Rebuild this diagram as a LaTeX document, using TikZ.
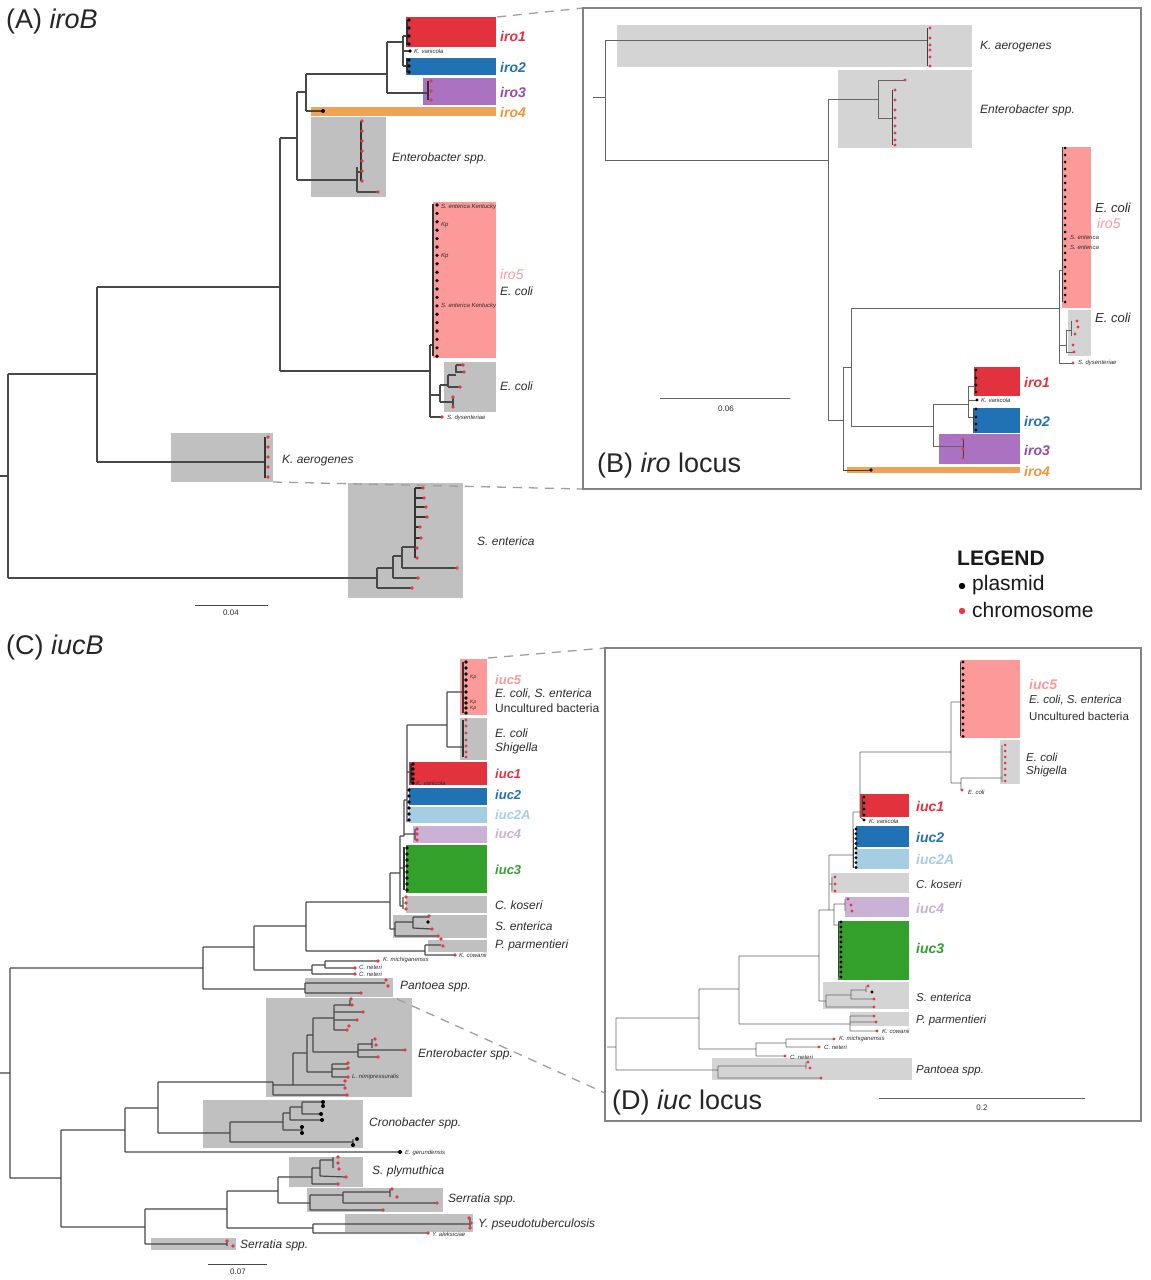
\documentclass[tikz,border=0pt]{standalone}
\usepackage{fontspec}
\setmainfont{Liberation Sans}
\definecolor{treeA}{RGB}{72,72,72}
\definecolor{treeB}{RGB}{100,100,100}
\definecolor{rdot}{RGB}{228,58,72}
\definecolor{txt}{RGB}{45,45,45}
\definecolor{cRed}{RGB}{226,50,62}
\definecolor{cBlue}{RGB}{33,113,181}
\definecolor{cPurp}{RGB}{170,114,192}
\definecolor{cPurpT}{RGB}{150,72,178}
\definecolor{cOra}{RGB}{240,163,85}
\definecolor{cOraT}{RGB}{238,150,60}
\definecolor{cPink}{RGB}{251,154,153}
\definecolor{cLBlue}{RGB}{166,206,227}
\definecolor{cLav}{RGB}{202,178,214}
\definecolor{cGreen}{RGB}{51,160,44}
\definecolor{gA}{RGB}{192,192,192}
\definecolor{gB}{RGB}{212,212,212}
\definecolor{frame}{RGB}{130,130,130}
\begin{document}
\begin{tikzpicture}[x=1pt,y=-1pt,
  trA/.style={draw=treeA, line width=1.2pt},
  trB/.style={draw=treeB, line width=0.9pt},
  chA/.style={draw=black!80, line width=1.2pt},
  chB/.style={draw=black!75, line width=0.9pt},
  rd/.style={fill=rdot},
  bk/.style={fill=black},
  lab/.style={anchor=west, inner sep=0pt, text=txt, font=\fontsize{12}{14}\selectfont\itshape},
  labu/.style={anchor=west, inner sep=0pt, text=txt, font=\fontsize{12}{14}\selectfont},
  labD/.style={anchor=west, inner sep=0pt, text=txt, font=\fontsize{11.5}{13}\selectfont\itshape},
  labDu/.style={anchor=west, inner sep=0pt, text=txt, font=\fontsize{11.5}{13}\selectfont},
  clab/.style={anchor=west, inner sep=0pt, font=\fontsize{14}{16}\selectfont\bfseries\itshape},
  clabC/.style={anchor=west, inner sep=0pt, font=\fontsize{13}{15}\selectfont\bfseries\itshape},
  sm/.style={anchor=west, inner sep=0pt, text=txt, font=\fontsize{6}{7}\selectfont\itshape},
  ttl/.style={anchor=west, inner sep=0pt, text=black!85, font=\fontsize{27}{30}\selectfont},
  scl/.style={anchor=north, inner sep=0pt, text=txt, font=\fontsize{8}{9}\selectfont},
  zl/.style={draw=gray!75, line width=1.3pt, dash pattern=on 9pt off 7pt},
  frm/.style={draw=frame, line width=1.2pt},
  lg/.style={anchor=west, inner sep=0pt, text=black!90, font=\fontsize{21}{24}\selectfont}
]
\useasboundingbox[fill=white] (0,0) rectangle (1151,1280);

%================ PANEL A =================
\fill[cRed] (406,17) rectangle (496,47);
\fill[cBlue] (406,58) rectangle (496,75);
\fill[cPurp] (423,78) rectangle (496,105);
\fill[cOra] (311,107) rectangle (496,116);
\fill[gA] (311,117) rectangle (386,197);
\fill[cPink] (433,202) rectangle (496,358);
\fill[gA] (444,362) rectangle (496,412);
\fill[gA] (171,433) rectangle (273,482);
\fill[gA] (348,483) rectangle (463,598);

\draw[trA] (0,476)--(8,476) (8,374)--(8,578) (8,374)--(97,374)
  (97,287)--(97,462) (97,462)--(265,462) (97,287)--(280,287)
  (280,138)--(280,371) (280,371)--(430,371) (280,138)--(297,138)
  (297,92)--(297,180) (297,180)--(357,180) (357,167)--(357,192) (357,192)--(378,192) (357,172)--(361,172)
  (297,92)--(306,92) (306,74)--(306,111) (306,111)--(323,111) (306,74)--(387,74)
  (387,42)--(387,93) (387,93)--(428,93) (387,42)--(403,42) (403,36)--(403,66)
  (403,36)--(407,36) (403,66)--(407,66) (403,51)--(410,51)
  (430,345)--(430,417) (430,345)--(433,345) (430,417)--(442,417)
  (430,395)--(440,395) (440,385)--(440,402) (440,402)--(453,402) (453,397)--(453,407)
  (440,385)--(448,385) (448,375)--(448,387) (448,387)--(460,387) (448,375)--(456,375) (456,365)--(456,373)
  (456,365)--(463,365) (456,372)--(464,372)
  (8,578)--(377,578) (377,568)--(377,588) (377,588)--(412,588) (377,568)--(393,568)
  (393,556)--(393,578) (393,578)--(418,578) (393,556)--(402,556) (402,547)--(402,568)
  (402,568)--(457,568) (402,547)--(415,547);
\draw[chA] (361,121)--(361,181) (428,81)--(428,100) (407,20)--(407,45) (407,58)--(407,72)
  (433,204)--(433,356) (265,437)--(265,478) (415,488)--(415,558)
  (415,488)--(423,488) (415,498)--(424,498) (415,507)--(426,507) (415,517)--(427,517)
  (415,527)--(420,527) (415,538)--(421,538);
\foreach \yy in {121,131,141,151,161,171,181} \fill[rd] (362,\yy) circle (1.9pt);
\fill[rd] (378,192) circle (1.9pt);
\foreach \yy in {81,91,100} \fill[rd] (431,\yy) circle (1.9pt);
\foreach \yy in {20,28,36,44,60,66,72} \fill[bk] (409,\yy) circle (1.8pt);
\fill[bk] (410,51) circle (1.8pt);
\fill[bk] (323,111) circle (2pt);
\foreach \i in {0,...,18} \fill[bk] (437,{205+8.4*\i}) circle (1.8pt);
\foreach \p in {(463,365),(464,372),(460,387),(453,397),(453,407),(442,417)} \fill[rd] \p circle (1.8pt);
\foreach \yy in {437,447,457,467,477} \fill[rd] (268,\yy) circle (1.9pt);
\foreach \p in {(423,488),(424,498),(426,507),(427,517),(420,527),(421,538),(417,548),(417,558),(457,568),(418,578),(412,588)} \fill[rd] \p circle (1.9pt);

\node[ttl] (tA) at (6,22) {(A) \textit{iroB}};
\node[clab, text=cRed] (lA1) at (500,36) {iro1};
\node[clab, text=cBlue] (lA2) at (500,67) {iro2};
\node[clab, text=cPurpT] (lA3) at (500,92) {iro3};
\node[clab, text=cOraT] (lA4) at (500,112) {iro4};
\node[lab] (lAent) at (392,158) {Enterobacter spp.};
\node[anchor=west, inner sep=0pt, text=cPink, font=\fontsize{14}{16}\selectfont\itshape] (lA5) at (500,274) {iro5};
\node[lab] (lAec1) at (500,291) {E. coli};
\node[lab] (lAec2) at (500,386) {E. coli};
\node[lab] (lAka) at (282,461) {K. aerogenes};
\node[lab] (lAse) at (477,541) {S. enterica};
\node[sm] (sA1) at (414,51) {K. variicola};
\node[sm] (sA2) at (441,207) {S. enterica Kentucky};
\node[sm] (sA3) at (441,225) {Kp};
\node[sm] (sA4) at (441,256) {Kp};
\node[sm] (sA5) at (441,306) {S. enterica Kentucky};
\node[sm] (sA6) at (447,418) {S. dysenteriae};
\draw[trA, line width=1pt] (195,605)--(268,605);
\node[scl] (scA) at (231,610) {0.04};

%================ PANEL B =================
\coordinate (iroTR) at (497,17);
\coordinate (kaBR) at (273,482);
\coordinate (BTL) at (583,8);
\coordinate (BBL) at (583,489);
\draw[zl] (iroTR)--(BTL);
\draw[zl] (kaBR)--(BBL);
\fill[gB] (617,25) rectangle (972,67);
\fill[gB] (838,70) rectangle (972,148);
\fill[cPink] (1062,147) rectangle (1091,308);
\fill[gB] (1068,310) rectangle (1091,356);
\fill[cRed] (974,367) rectangle (1020,396);
\fill[cBlue] (973,408) rectangle (1020,433);
\fill[cPurp] (939,434) rectangle (1020,464);
\fill[cOra] (847,467) rectangle (1020,473);
\draw[frm] (583,8) rectangle (1141,489);

\draw[trB] (593,97)--(605,97) (605,40)--(605,160) (605,40)--(927,40) (605,160)--(828,160)
  (828,99)--(828,420) (828,99)--(878,99) (878,80)--(878,118) (878,80)--(905,80) (878,118)--(892,118)
  (828,420)--(843,420) (843,367)--(843,470) (843,367)--(851,367) (851,308)--(851,426)
  (851,308)--(1059,308) (851,426)--(933,426) (933,404)--(933,446) (933,446)--(963,446)
  (933,404)--(968,404) (968,386)--(968,417) (968,386)--(975,386) (968,417)--(973,417) (968,400)--(977,400)
  (1059,270)--(1059,363) (1059,270)--(1062,270) (1059,363)--(1073,363)
  (1059,345)--(1066,345) (1066,330)--(1066,352) (1066,352)--(1074,352) (1066,330)--(1071,330) (1071,321)--(1071,336);
\draw[chB] (927,28)--(927,66) (892,90)--(892,145) (963,439)--(963,458) (975,370)--(975,392)
  (973,409)--(973,430) (1062,147)--(1062,302) (843,470)--(871,470);
\foreach \yy in {28,38,45,50,57,66} \fill[rd] (930,\yy) circle (1.6pt);
\foreach \yy in {90,100,110,118,126,133,140,145} \fill[rd] (895,\yy) circle (1.6pt);
\fill[rd] (905,80) circle (1.6pt);
\foreach \yy in {439,449,458} \fill[rd] (963,\yy) circle (1.6pt);
\foreach \yy in {370,378,385,392,409,417,424,430} \fill[bk] (976,\yy) circle (1.6pt);
\fill[bk] (977,400) circle (1.6pt);
\fill[bk] (871,470) circle (1.8pt);
\foreach \i in {0,...,22} \fill[bk] (1065,{148+7*\i}) circle (1.5pt);
\foreach \p in {(1077,321),(1078,327),(1075,334),(1073,345),(1074,352),(1073,363)} \fill[rd] \p circle (1.6pt);

\node[lab] (lBka) at (980,47) {K. aerogenes};
\node[lab] (lBent) at (980,110) {Enterobacter spp.};
\node[lab, font=\fontsize{13}{15}\selectfont\itshape] (lBec1) at (1095,208) {E. coli};
\node[anchor=west, inner sep=0pt, text=cPink, font=\fontsize{14}{16}\selectfont\itshape] (lB5) at (1097,223) {iro5};
\node[lab, font=\fontsize{13}{15}\selectfont\itshape] (lBec2) at (1095,318) {E. coli};
\node[sm] (sB1) at (1070,237) {S. enterica};
\node[sm] (sB2) at (1070,247) {S. enterica};
\node[sm] (sB3) at (1078,363) {S. dysenteriae};
\node[sm] (sB4) at (981,400) {K. variicola};
\node[clab, text=cRed] (lB1) at (1024,382) {iro1};
\node[clab, text=cBlue] (lB2) at (1024,421) {iro2};
\node[clab, text=cPurpT] (lB3) at (1024,450) {iro3};
\node[clab, text=cOraT] (lB4) at (1024,471) {iro4};
\draw[trB] (660,398)--(790,398);
\node[scl] (scB) at (726,406) {0.06};
\node[ttl] (tB) at (597,466) {(B) \textit{iro} locus};

%================ LEGEND =================
\node[lg, font=\fontsize{21}{24}\selectfont\bfseries] (lgT) at (957,558) {LEGEND};
\fill[bk] (962,586) circle (3.2pt);
\node[lg] (lgP) at (972,585) {plasmid};
\fill[rd] (962,611) circle (3.2pt);
\node[lg] (lgC) at (972,610) {chromosome};

%================ PANEL C =================
\fill[cPink] (460,659) rectangle (487,715);
\fill[gA] (460,718) rectangle (487,760);
\fill[cRed] (409,762) rectangle (487,785);
\fill[cBlue] (409,788) rectangle (487,805);
\fill[cLBlue] (409,807) rectangle (487,823);
\fill[cLav] (413,826) rectangle (487,843);
\fill[cGreen] (406,845) rectangle (487,893);
\fill[gA] (406,896) rectangle (487,913);
\fill[gA] (393,915) rectangle (487,938);
\fill[gA] (428,940) rectangle (487,952);
\fill[gA] (305,978) rectangle (393,997);
\fill[gA] (266,998) rectangle (412,1097);
\fill[gA] (203,1100) rectangle (363,1148);
\fill[gA] (289,1157) rectangle (363,1187);
\fill[gA] (307,1188) rectangle (443,1212);
\fill[gA] (345,1214) rectangle (473,1232);
\fill[gA] (151,1238) rectangle (236,1250);

\draw[trA] (0,1073)--(10,1073) (10,968)--(10,1178) (10,968)--(203,968) (203,947)--(203,989)
  (203,947)--(254,947) (254,926)--(254,970) (254,926)--(306,926) (306,902)--(306,951)
  (306,951)--(425,951) (425,945)--(425,955) (425,945)--(441,945) (425,955)--(455,955)
  (306,902)--(390,902) (390,873)--(390,929) (390,929)--(395,929) (395,922)--(395,936)
  (395,936)--(438,936) (395,922)--(413,922) (413,917)--(413,928) (413,917)--(429,917) (413,928)--(432,929)
  (390,873)--(400,873) (400,836)--(400,906) (400,906)--(403,906) (403,897)--(403,909)
  (400,868)--(404,868) (400,836)--(404,836) (404,800)--(404,836) (404,834)--(415,834) (415,829)--(415,840)
  (404,800)--(407,800) (407,725)--(407,822) (407,772)--(411,772)
  (407,725)--(447,725) (447,692)--(447,747) (447,692)--(463,692) (447,747)--(463,747)
  (254,970)--(312,970) (312,965)--(312,974) (312,965)--(325,965) (325,961)--(325,968)
  (325,961)--(378,961) (325,968)--(355,968) (312,974)--(355,974)
  (203,989)--(305,989) (305,983)--(305,993) (305,983)--(385,983) (305,993)--(360,993)
  (10,1178)--(61,1178) (61,1130)--(61,1227) (61,1130)--(125,1130) (125,1108)--(125,1152)
  (125,1152)--(400,1152) (125,1108)--(158,1108) (158,1082)--(158,1133)
  (158,1082)--(273,1082) (273,1082)--(273,1095) (273,1095)--(347,1095)
  (273,1085)--(293,1085) (293,1053)--(293,1085) (293,1085)--(345,1085)
  (293,1053)--(307,1053) (307,1035)--(307,1072) (307,1072)--(332,1072) (332,1064)--(332,1077)
  (332,1064)--(348,1064) (332,1069)--(348,1069) (332,1077)--(348,1077)
  (307,1035)--(313,1035) (313,1018)--(313,1052) (313,1052)--(358,1052) (358,1044)--(358,1057)
  (358,1044)--(372,1044) (372,1039)--(372,1048) (358,1050)--(405,1050) (358,1057)--(378,1057)
  (313,1018)--(334,1018) (334,1005)--(334,1030) (334,1005)--(350,1005) (350,1000)--(350,1006)
  (334,1012)--(362,1012) (334,1020)--(356,1020) (334,1030)--(347,1030)
  (158,1133)--(230,1133) (230,1122)--(230,1142) (230,1142)--(353,1142) (353,1139)--(353,1145)
  (230,1122)--(283,1122) (283,1113)--(283,1130) (283,1130)--(302,1130) (302,1127)--(302,1133)
  (283,1113)--(290,1113) (290,1107)--(290,1120) (290,1120)--(322,1120) (290,1107)--(302,1107)
  (302,1102)--(302,1114) (302,1102)--(323,1102) (302,1114)--(321,1114)
  (61,1227)--(145,1227) (145,1209)--(145,1244) (145,1244)--(227,1244) (227,1241)--(227,1246)
  (145,1209)--(227,1209) (227,1191)--(227,1228) (227,1228)--(313,1228) (313,1224)--(313,1233)
  (313,1224)--(470,1224) (470,1218)--(470,1228) (313,1233)--(428,1233)
  (227,1191)--(278,1191) (278,1177)--(278,1203) (278,1177)--(312,1177) (312,1168)--(312,1184)
  (312,1184)--(338,1184) (312,1168)--(320,1168) (320,1160)--(320,1176) (320,1176)--(346,1177)
  (320,1160)--(333,1160) (333,1157)--(333,1168)
  (278,1203)--(310,1203) (310,1195)--(310,1210) (310,1210)--(383,1210) (310,1195)--(343,1195)
  (343,1192)--(343,1203) (343,1192)--(390,1192) (390,1189)--(390,1197) (343,1203)--(437,1203);
\draw[chA] (404,847)--(404,890) (411,764)--(411,783) (463,662)--(463,713) (463,720)--(463,757);
\foreach \yy in {848,854,860,866,872,878,884,890} \fill[bk] (407,\yy) circle (1.8pt);
\foreach \yy in {790,796,802,808,814,820} \fill[bk] (409,\yy) circle (1.8pt);
\foreach \yy in {764,769,774,779,783} \fill[bk] (413,\yy) circle (1.8pt);
\foreach \yy in {662,668,674,680,686,692,698,703,708,713} \fill[bk] (466,\yy) circle (1.8pt);
\foreach \yy in {720,726,733,740,746,752,757} \fill[rd] (466,\yy) circle (1.7pt);
\foreach \yy in {829,834,840} \fill[rd] (417,\yy) circle (1.8pt);
\foreach \yy in {897,903,909} \fill[rd] (406,\yy) circle (1.8pt);
\foreach \p in {(429,916),(432,929),(438,936),(441,939),(443,946),(455,955),(378,961),(355,968),(355,974),
  (386,980),(388,986),(361,993),(347,1095),(345,1081),(345,1088),(348,1063),(348,1068),(348,1077),
  (375,1039),(376,1045),(405,1050),(378,1057),(351,999),(352,1005),(363,1012),(357,1020),(347,1030),(349,1026),
  (338,1157),(338,1163),(339,1169),(346,1177),(338,1184),(392,1189),(397,1197),(437,1203),(383,1210),
  (469,1218),(471,1223),(470,1228),(428,1233),(227,1241),(233,1246)} \fill[rd] \p circle (1.9pt);
\fill[bk] (428,922) circle (1.8pt);
\foreach \p in {(323,1102),(323,1106),(321,1114),(322,1120),(302,1127),(302,1133),(357,1139),(353,1145),(400,1152)} \fill[bk] \p circle (2pt);

\node[ttl] (tC) at (6,648) {(C) \textit{iucB}};
\node[clabC, text=cPink] (lC5) at (495,680) {iuc5};
\node[lab] (lCa) at (495,694) {E. coli, S. enterica};
\node[labu] (lCb) at (495,708) {Uncultured bacteria};
\node[lab] (lCc) at (495,733) {E. coli};
\node[lab] (lCd) at (495,748) {Shigella};
\node[clabC, text=cRed] (lC1) at (495,774) {iuc1};
\node[clabC, text=cBlue] (lC2) at (495,795) {iuc2};
\node[clabC, text=cLBlue] (lC2A) at (495,815) {iuc2A};
\node[clabC, text=cLav] (lC4) at (495,834) {iuc4};
\node[clabC, text=cGreen] (lC3) at (495,870) {iuc3};
\node[lab] (lCck) at (495,905) {C. koseri};
\node[lab] (lCse) at (495,926) {S. enterica};
\node[lab] (lCpp) at (495,945) {P. parmentieri};
\node[lab] (lCpa) at (400,987) {Pantoea spp.};
\node[lab] (lCen) at (418,1054) {Enterobacter spp.};
\node[lab] (lCcr) at (369,1123) {Cronobacter spp.};
\node[lab] (lCsp) at (372,1171) {S. plymuthica};
\node[lab] (lCsr) at (448,1199) {Serratia spp.};
\node[lab] (lCyp) at (478,1224) {Y. pseudotuberculosis};
\node[lab] (lCsr2) at (240,1245) {Serratia spp.};
\node[sm] (sC1) at (459,955) {K. cowanii};
\node[sm] (sC2) at (383,960) {K. michiganensis};
\node[sm] (sC3) at (359,967) {C. neteri};
\node[sm] (sC4) at (359,974) {C. neteri};
\node[sm] (sC5) at (352,1077) {L. nimipressuralis};
\node[sm] (sC6) at (405,1153) {E. gerundensis};
\node[sm] (sC7) at (432,1234) {Y. aleksiciae};
\node[sm] (sC8) at (416,783) {K. variicola};
\node[sm, font=\fontsize{5}{6}\selectfont\itshape] (sC9) at (470,677) {Kp};
\node[sm, font=\fontsize{5}{6}\selectfont\itshape] (sC10) at (470,702) {Kp};
\node[sm, font=\fontsize{5}{6}\selectfont\itshape] (sC11) at (470,708) {Kp};
\draw[trA, line width=1pt] (208,1264)--(267,1264);
\node[scl] (scC) at (238,1269) {0.07};

%================ PANEL D =================
\coordinate (iucTR) at (488,658);
\coordinate (DTL) at (605,648);
\coordinate (panBR) at (397,999);
\coordinate (DBL) at (605,1093);
\draw[zl] (iucTR)--(DTL);
\draw[zl] (panBR)--(DBL);
\fill[cPink] (960,660) rectangle (1020,738);
\fill[gB] (1000,740) rectangle (1020,784);
\fill[cRed] (860,794) rectangle (909,817);
\fill[cBlue] (856,826) rectangle (909,847);
\fill[cLBlue] (856,849) rectangle (909,869);
\fill[gB] (831,873) rectangle (909,893);
\fill[cLav] (845,897) rectangle (909,917);
\fill[cGreen] (838,921) rectangle (909,980);
\fill[gB] (823,982) rectangle (909,1009);
\fill[gB] (850,1012) rectangle (909,1026);
\fill[gB] (712,1058) rectangle (912,1080);
\draw[frm] (605,648) rectangle (1141,1121);

\draw[trB] (607,1047)--(616,1047) (616,1018)--(616,1070) (616,1070)--(718,1070) (718,1066)--(718,1078)
  (718,1066)--(806,1066) (806,1062)--(806,1069) (718,1078)--(821,1078)
  (616,1018)--(699,1018) (699,989)--(699,1049) (699,1049)--(756,1049) (756,1043)--(756,1056)
  (756,1056)--(785,1056) (756,1043)--(786,1043) (786,1039)--(786,1047) (786,1039)--(834,1039) (786,1047)--(819,1047)
  (699,989)--(739,989) (739,956)--(739,1024) (739,1024)--(850,1024) (850,1016)--(850,1031)
  (850,1016)--(874,1016) (850,1022)--(876,1022) (850,1031)--(877,1031)
  (739,956)--(819,956) (819,910)--(819,1001) (819,1001)--(826,1001) (826,995)--(826,1007)
  (826,1007)--(874,1007) (826,995)--(851,995) (851,990)--(851,999) (851,999)--(874,999) (851,990)--(866,990) (866,986)--(866,992)
  (819,910)--(829,910) (829,855)--(829,910) (829,910)--(834,910) (834,904)--(834,925)
  (834,904)--(845,904) (845,899)--(845,911) (834,925)--(838,925)
  (829,884)--(832,884) (832,877)--(832,891)
  (829,855)--(853,855) (853,812)--(853,868) (853,812)--(860,812) (860,752)--(860,817)
  (860,805)--(862,805) (860,817)--(864,820)
  (860,752)--(951,752) (951,702)--(951,783) (951,702)--(960,702) (951,783)--(961,783) (961,778)--(961,790)
  (961,778)--(1002,778) (1002,745)--(1002,782);
\draw[chB] (838,922)--(838,977) (853,829)--(853,868) (862,797)--(862,815) (960,662)--(960,736);
\foreach \i in {0,...,11} \fill[bk] (841,{922+5*\i}) circle (1.6pt);
\foreach \i in {0,...,8} \fill[bk] (856,{829+4.8*\i}) circle (1.6pt);
\foreach \yy in {797,803,809,815,820} \fill[bk] (864,\yy) circle (1.6pt);
\foreach \i in {0,...,12} \fill[bk] (963,{662+6.2*\i}) circle (1.6pt);
\foreach \yy in {745,751,757,763,769,775,781} \fill[rd] (1005,\yy) circle (1.5pt);
\foreach \p in {(962,790),(848,899),(851,905),(852,911),(835,877),(835,884),(835,891),(868,986),(874,999),(874,1007),
  (874,1016),(876,1022),(877,1031),(834,1039),(819,1047),(785,1056),(808,1062),(810,1068),(821,1078)} \fill[rd] \p circle (1.6pt);
\fill[bk] (872,992) circle (1.6pt);

\node[clab, text=cPink] (lD5) at (1029,684) {iuc5};
\node[labD] (lDa) at (1029,700) {E. coli, S. enterica};
\node[labDu] (lDb) at (1029,716) {Uncultured bacteria};
\node[labD] (lDc) at (1026,757) {E. coli};
\node[labD] (lDd) at (1026,772) {Shigella};
\node[clab, text=cRed] (lD1) at (916,806) {iuc1};
\node[clab, text=cBlue] (lD2) at (916,837) {iuc2};
\node[clab, text=cLBlue] (lD2A) at (916,859) {iuc2A};
\node[labD] (lDck) at (916,884) {C. koseri};
\node[clab, text=cLav] (lD4) at (916,908) {iuc4};
\node[clab, text=cGreen] (lD3) at (916,948) {iuc3};
\node[labD] (lDse) at (916,997) {S. enterica};
\node[labD] (lDpp) at (916,1021) {P. parmentieri};
\node[labD] (lDpa) at (916,1071) {Pantoea spp.};
\node[sm] (sD1) at (869,821) {K. variicola};
\node[sm] (sD2) at (968,792) {E. coli};
\node[sm] (sD3) at (882,1031) {K. cowanii};
\node[sm] (sD4) at (839,1039) {K. michiganensis};
\node[sm] (sD5) at (824,1047) {C. neteri};
\node[sm] (sD6) at (790,1057) {C. neteri};
\draw[trB] (879,1098)--(1085,1098);
\node[scl] (scD) at (982,1105) {0.2};
\node[ttl] (tD) at (612,1102) {(D) \textit{iuc} locus};
\end{tikzpicture}
\end{document}
